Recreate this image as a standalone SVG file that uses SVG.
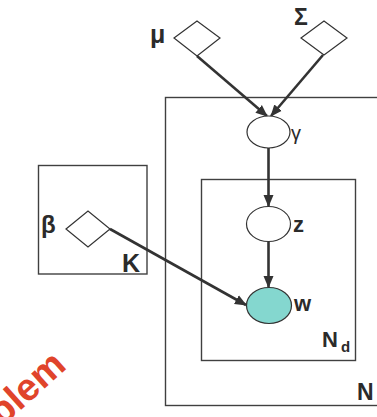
<svg xmlns="http://www.w3.org/2000/svg" width="377" height="417" viewBox="0 0 377 417">
<style>
.plate{fill:none;stroke:#404040;stroke-width:1.4}
.node{fill:#fff;stroke:#333;stroke-width:1.2}
.obs{fill:#84d7cf;stroke:#333;stroke-width:1.2}
.edge{stroke:#333;stroke-width:2.6;fill:none}
.lbl{font-family:"Liberation Sans",Arial,sans-serif;font-weight:bold;fill:#2b2b2b}
.greek{font-family:"Liberation Sans",Arial,sans-serif;fill:#2b2b2b}
</style>
<defs>
<marker id="ah" markerUnits="userSpaceOnUse" markerWidth="12" markerHeight="12" viewBox="0 0 12 12" refX="11" refY="6" orient="auto">
<path d="M0,1 L12,6 L0,11 Z" fill="#333"/>
</marker>
</defs>
<g id="plates">
<rect id="plate-N" class="plate" x="165.5" y="97.5" width="230" height="308"/>
<rect id="plate-Nd" class="plate" x="201.5" y="179.5" width="154" height="181"/>
<rect id="plate-K" class="plate" x="38.5" y="165.5" width="108.5" height="108.5"/>
<text class="lbl" x="357" y="400" font-size="23">N</text>
<text class="lbl" x="322" y="347" font-size="22">N</text>
<text class="lbl" x="341" y="352" font-size="15">d</text>
<text class="lbl" x="122" y="272" font-size="25">K</text>
</g>
<g id="connectors">
<line class="edge" x1="197" y1="56" x2="267" y2="116" marker-end="url(#ah)"/>
<line class="edge" x1="323" y1="55" x2="271" y2="116" marker-end="url(#ah)"/>
<line class="edge" x1="268.5" y1="148" x2="268.5" y2="206" marker-end="url(#ah)"/>
<line class="edge" x1="268.5" y1="242" x2="268.5" y2="287" marker-end="url(#ah)"/>
<line class="edge" x1="110" y1="229" x2="246" y2="305" marker-end="url(#ah)"/>
</g>
<g id="mu">
<polygon class="node" points="174,38 197,21 220,38 197,56"/>
<text class="lbl" x="150" y="43" font-size="25">μ</text>
</g>
<g id="sigma">
<polygon class="node" points="301,38 324,21 347,38 324,55"/>
<text class="lbl" x="294" y="25" font-size="23">Σ</text>
</g>
<g id="beta">
<polygon class="node" points="66,229 88,211 110,229 88,247"/>
<text class="lbl" x="41" y="233" font-size="24">β</text>
</g>
<g id="gamma">
<ellipse class="node" cx="268.5" cy="132" rx="21.5" ry="16"/>
<text class="greek" x="291" y="140" font-size="20">γ</text>
</g>
<g id="z">
<ellipse class="node" cx="268.5" cy="224" rx="22" ry="17.5"/>
<text class="lbl" x="293" y="232" font-size="22">z</text>
</g>
<g id="w">
<ellipse class="obs" cx="269" cy="305.5" rx="22.5" ry="18"/>
<text class="lbl" x="294" y="311" font-size="22">w</text>
</g>
<g id="watermark">
<text x="0" y="0" font-family="'Liberation Sans',Arial,sans-serif" font-weight="bold" font-size="38" fill="#e0442b" transform="translate(2,427) rotate(-42)">blem</text>
</g>
</svg>
